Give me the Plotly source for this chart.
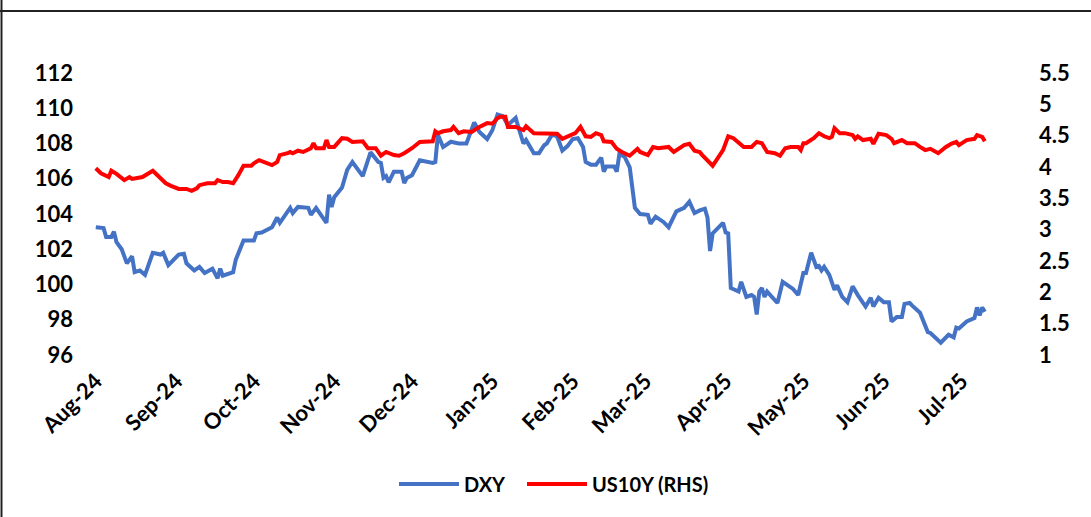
import plotly.graph_objects as go

# ---------------- data ----------------
dxy_dates = [
    "2024-08-01", "2024-08-04", "2024-08-05", "2024-08-07", "2024-08-08", "2024-08-09", "2024-08-11", "2024-08-13",
    "2024-08-15", "2024-08-16", "2024-08-18", "2024-08-20", "2024-08-23", "2024-08-26", "2024-08-27", "2024-08-29",
    "2024-09-02", "2024-09-04", "2024-09-05", "2024-09-08", "2024-09-10", "2024-09-12", "2024-09-15", "2024-09-17",
    "2024-09-18", "2024-09-19", "2024-09-23", "2024-09-24", "2024-09-27",
    "2024-10-01", "2024-10-02", "2024-10-04", "2024-10-08", "2024-10-10", "2024-10-11", "2024-10-15", "2024-10-16",
    "2024-10-18", "2024-10-22", "2024-10-23", "2024-10-25", "2024-10-27", "2024-10-29", "2024-10-30", "2024-10-31",
    "2024-11-01", "2024-11-04", "2024-11-06", "2024-11-08", "2024-11-12", "2024-11-15", "2024-11-18", "2024-11-19",
    "2024-11-20", "2024-11-21", "2024-11-22", "2024-11-24", "2024-11-27", "2024-11-28", "2024-11-29",
    "2024-12-01", "2024-12-04", "2024-12-09", "2024-12-10", "2024-12-11", "2024-12-13", "2024-12-16", "2024-12-19",
    "2024-12-22", "2024-12-25", "2024-12-27", "2024-12-30",
    "2025-01-01", "2025-01-03", "2025-01-05", "2025-01-07", "2025-01-10", "2025-01-11", "2025-01-13", "2025-01-14",
    "2025-01-17", "2025-01-19", "2025-01-21", "2025-01-22", "2025-01-24", "2025-01-26", "2025-01-28", "2025-01-30",
    "2025-02-01", "2025-02-03", "2025-02-05", "2025-02-06", "2025-02-08", "2025-02-10", "2025-02-12", "2025-02-13",
    "2025-02-14", "2025-02-17", "2025-02-18", "2025-02-19", "2025-02-21", "2025-02-23", "2025-02-25", "2025-02-27",
    "2025-03-02", "2025-03-03", "2025-03-05", "2025-03-08", "2025-03-10", "2025-03-13", "2025-03-16", "2025-03-18",
    "2025-03-20", "2025-03-22", "2025-03-24", "2025-03-25", "2025-03-26", "2025-03-27", "2025-03-31",
    "2025-04-01", "2025-04-02", "2025-04-03", "2025-04-06", "2025-04-07", "2025-04-09", "2025-04-11", "2025-04-12",
    "2025-04-13", "2025-04-14", "2025-04-15", "2025-04-16", "2025-04-17", "2025-04-21", "2025-04-23", "2025-04-27",
    "2025-04-29",
    "2025-05-01", "2025-05-02", "2025-05-04", "2025-05-06", "2025-05-07", "2025-05-08", "2025-05-09", "2025-05-11",
    "2025-05-13", "2025-05-14", "2025-05-16", "2025-05-18", "2025-05-20", "2025-05-22", "2025-05-25", "2025-05-27",
    "2025-05-28", "2025-05-30",
    "2025-06-01", "2025-06-03", "2025-06-04", "2025-06-06", "2025-06-08", "2025-06-09", "2025-06-11", "2025-06-12",
    "2025-06-15", "2025-06-18", "2025-06-19", "2025-06-23", "2025-06-26", "2025-06-28", "2025-06-29", "2025-06-30",
    "2025-07-03", "2025-07-06", "2025-07-07", "2025-07-08", "2025-07-09", "2025-07-10",
]
dxy_values = [
    103.25, 103.2, 102.7, 102.7, 103.0, 102.4, 102.0, 101.2, 101.6, 100.7, 100.8, 100.55, 101.8, 101.7, 101.8, 101.1,
    101.7, 101.75, 101.2, 100.8, 101.0, 100.65, 100.9, 100.35, 100.9, 100.5, 100.7, 101.4, 102.5,
    102.5, 102.9, 102.95, 103.25, 103.8, 103.5, 104.35, 104.05, 104.4, 104.35, 103.95, 104.35, 103.95, 103.5, 105.1, 104.4,
    104.95, 105.5, 106.5, 106.95, 106.15, 107.5, 106.95, 106.9, 106.05, 106.15, 105.8, 106.4, 106.4, 105.75, 106.05,
    106.2, 107.05, 106.9, 106.95, 108.5, 107.8, 108.1, 108.0, 108.0, 109.2, 108.65, 108.25,
    108.75, 109.65, 109.55, 109.05, 109.45, 108.95, 108.0, 108.2, 107.45, 107.45, 107.9, 108.0, 108.5, 108.4, 107.6, 107.85,
    108.25, 108.3, 107.8, 106.95, 106.8, 106.8, 107.2, 106.4, 106.7, 106.7, 106.4, 107.4, 107.25, 106.65, 104.35, 104.0,
    103.95, 103.45, 103.85, 103.55, 103.25, 104.15, 104.35, 104.7, 104.05, 104.2, 104.3, 103.8, 101.9, 102.9, 103.5,
    102.95, 102.9, 99.8, 99.6, 100.15, 99.3, 99.4, 99.3, 98.3, 99.6, 99.8, 99.3, 99.6, 98.95, 100.15, 99.75, 99.4,
    100.65, 100.65, 101.8, 101.0, 101.05, 100.8, 101.0, 100.55, 99.7, 99.95, 99.3, 99.0, 99.9, 99.4, 98.75, 99.25, 98.75, 99.25,
    99.0, 99.0, 97.9, 98.15, 98.15, 98.9, 98.95, 98.8, 98.4, 97.3, 97.25, 96.7, 97.15, 97.0, 97.55, 97.5,
    97.9, 98.1, 98.7, 98.25, 98.7, 98.45,
]

us10y_dates = [
    "2024-08-01", "2024-08-03", "2024-08-06", "2024-08-07", "2024-08-09", "2024-08-12", "2024-08-14", "2024-08-15",
    "2024-08-19", "2024-08-23", "2024-08-25", "2024-08-28", "2024-08-30",
    "2024-09-02", "2024-09-05", "2024-09-07", "2024-09-09", "2024-09-10", "2024-09-13", "2024-09-16", "2024-09-17",
    "2024-09-19", "2024-09-21", "2024-09-23", "2024-09-25", "2024-09-27", "2024-09-30",
    "2024-10-01", "2024-10-03", "2024-10-06", "2024-10-08", "2024-10-10", "2024-10-11", "2024-10-14", "2024-10-15",
    "2024-10-16", "2024-10-18", "2024-10-20", "2024-10-23", "2024-10-24", "2024-10-25", "2024-10-28", "2024-10-29",
    "2024-10-30",
    "2024-11-01", "2024-11-04", "2024-11-06", "2024-11-08", "2024-11-12", "2024-11-14", "2024-11-17", "2024-11-19",
    "2024-11-21", "2024-11-24", "2024-11-26", "2024-11-28",
    "2024-12-01", "2024-12-04", "2024-12-09", "2024-12-10", "2024-12-11", "2024-12-13", "2024-12-16", "2024-12-17",
    "2024-12-19", "2024-12-21", "2024-12-24", "2024-12-27", "2024-12-30",
    "2025-01-01", "2025-01-03", "2025-01-04", "2025-01-06", "2025-01-07", "2025-01-10", "2025-01-13", "2025-01-14",
    "2025-01-17", "2025-01-21", "2025-01-23", "2025-01-26", "2025-01-28", "2025-01-30",
    "2025-02-02", "2025-02-04", "2025-02-06", "2025-02-08", "2025-02-10", "2025-02-12", "2025-02-13", "2025-02-16",
    "2025-02-18", "2025-02-20", "2025-02-23", "2025-02-26", "2025-02-27",
    "2025-03-02", "2025-03-04", "2025-03-06", "2025-03-10", "2025-03-12", "2025-03-16", "2025-03-18", "2025-03-20",
    "2025-03-22", "2025-03-23", "2025-03-27", "2025-03-31",
    "2025-04-02", "2025-04-04", "2025-04-08", "2025-04-11", "2025-04-13", "2025-04-15", "2025-04-17", "2025-04-20",
    "2025-04-22", "2025-04-24", "2025-04-26", "2025-04-29", "2025-04-30",
    "2025-05-01", "2025-05-02", "2025-05-05", "2025-05-07", "2025-05-09", "2025-05-11", "2025-05-12", "2025-05-13",
    "2025-05-15", "2025-05-17", "2025-05-20", "2025-05-21", "2025-05-22", "2025-05-24", "2025-05-27", "2025-05-28",
    "2025-05-30",
    "2025-06-02", "2025-06-04", "2025-06-05", "2025-06-08", "2025-06-10", "2025-06-13", "2025-06-15", "2025-06-17",
    "2025-06-19", "2025-06-22", "2025-06-25", "2025-06-27", "2025-06-29", "2025-06-30",
    "2025-07-03", "2025-07-06", "2025-07-07", "2025-07-09", "2025-07-10",
]
us10y_values = [
    3.98, 3.90, 3.84, 3.94, 3.89, 3.79, 3.84, 3.81, 3.84, 3.94, 3.86, 3.74, 3.70,
    3.65, 3.65, 3.62, 3.66, 3.71, 3.74, 3.74, 3.79, 3.76, 3.76, 3.74, 3.87, 4.02, 4.02,
    4.06, 4.11, 4.06, 4.03, 4.08, 4.19, 4.22, 4.24, 4.22, 4.26, 4.24, 4.30, 4.38, 4.30, 4.30, 4.43, 4.32,
    4.32, 4.46, 4.45, 4.40, 4.41, 4.30, 4.30, 4.18, 4.24, 4.19, 4.18, 4.22,
    4.30, 4.40, 4.41, 4.57, 4.54, 4.57, 4.59, 4.64, 4.54, 4.57, 4.56, 4.64, 4.70,
    4.69, 4.78, 4.80, 4.80, 4.64, 4.64, 4.59, 4.65, 4.54, 4.54, 4.54, 4.53, 4.45, 4.49,
    4.54, 4.64, 4.49, 4.48, 4.54, 4.51, 4.41, 4.40, 4.29, 4.24, 4.18, 4.29, 4.24,
    4.19, 4.32, 4.30, 4.32, 4.24, 4.35, 4.37, 4.26, 4.24, 4.19, 4.02, 4.27,
    4.49, 4.46, 4.32, 4.32, 4.40, 4.38, 4.24, 4.22, 4.18, 4.30, 4.32, 4.32, 4.27,
    4.38, 4.38, 4.46, 4.54, 4.49, 4.46, 4.48, 4.62, 4.54, 4.54, 4.51, 4.45, 4.49, 4.43, 4.45, 4.37, 4.53,
    4.51, 4.45, 4.38, 4.43, 4.38, 4.38, 4.32, 4.27, 4.29, 4.22, 4.32, 4.37, 4.40, 4.35,
    4.43, 4.45, 4.51, 4.48, 4.41,
]
assert len(dxy_dates) == len(dxy_values)
assert len(us10y_dates) == len(us10y_values)

dxy_ticks = [96, 98, 100, 102, 104, 106, 108, 110, 112]
us10y_ticks = [1, 1.5, 2, 2.5, 3, 3.5, 4, 4.5, 5, 5.5]

BLUE = "#4472C4"
RED = "#FF0000"
FAMILY = "Lato, 'Open Sans', sans-serif"
FONT = dict(family=FAMILY, size=20, color="#000000", weight="bold")
TICKFONT = dict(family=FAMILY, size=22, color="#000000", weight="bold")

# ---------------- figure ----------------
fig = go.Figure()
fig.add_trace(go.Scatter(x=dxy_dates, y=dxy_values, name="DXY", mode="lines",
                         line=dict(color=BLUE, width=4), yaxis="y", legend="legend"))
fig.add_trace(go.Scatter(x=us10y_dates, y=us10y_values, name="US10Y (RHS)", mode="lines",
                         line=dict(color=RED, width=4), yaxis="y2", legend="legend2"))

W, H = 1091, 517
L, R, T, B = 88, 101, 73, 162
pw, ph = W - L - R, H - T - B

def px_x(p):
    return (p - L) / pw

def px_y(p):
    return (H - B - p) / ph

legend_common = dict(orientation="h", xanchor="left", y=px_y(484), yanchor="middle",
                     font=FONT, itemwidth=60, bgcolor="rgba(0,0,0,0)", borderwidth=0)

fig.update_layout(
    template="none",
    width=W, height=H,
    margin=dict(l=L, r=R, t=T, b=B, pad=0, autoexpand=False),
    paper_bgcolor="white", plot_bgcolor="white",
    font=FONT,
    showlegend=True,
    legend=dict(x=px_x(394), **legend_common),
    legend2=dict(x=px_x(522), **legend_common),
    xaxis=dict(type="date", range=["2024-07-29", "2025-07-12"], automargin=False,
               tick0="2024-08-01", dtick="M1", tickformat="%b-%y", tickangle=-45,
               showgrid=False, zeroline=False, showline=False, ticks="",
               tickfont=TICKFONT, ticklabelstandoff=8),
    yaxis=dict(range=[96, 112], tickvals=dxy_ticks, showgrid=False, zeroline=False, automargin=False,
               showline=False, ticks="", tickfont=TICKFONT, ticklabelstandoff=14),
    yaxis2=dict(range=[1, 5.5], tickvals=us10y_ticks, overlaying="y", side="right", automargin=False,
                showgrid=False, zeroline=False, showline=False, ticks="",
                tickfont=TICKFONT, ticklabelstandoff=48),
    shapes=[
        dict(type="line", xref="paper", yref="paper", x0=px_x(0), x1=px_x(W), y0=px_y(11), y1=px_y(11),
             line=dict(color="#222222", width=2)),
        dict(type="line", xref="paper", yref="paper", x0=px_x(1.5), x1=px_x(1.5), y0=px_y(0), y1=px_y(H),
             line=dict(color="#222222", width=2)),
    ],
)

fig.write_html("out.html", config={"displayModeBar": False, "staticPlot": True},
               post_script="document.body.style.margin='0';document.body.style.padding='0';")
